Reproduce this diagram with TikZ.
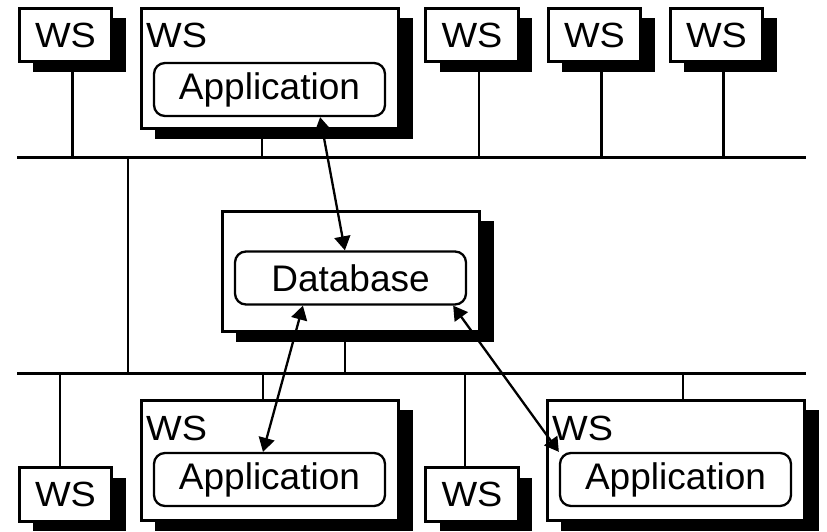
\documentclass[tikz,border=0pt]{standalone}
\usepackage{fontspec}
\setmainfont{Liberation Sans}
\usetikzlibrary{shadows,calc,arrows.meta,backgrounds}
\begin{document}
\begin{tikzpicture}[x=1pt,y=-1pt,
  shbox/.style={draw=black, fill=white, line width=2.6pt, inner sep=0pt,
    general shadow={fill=black, shadow xshift=14pt, shadow yshift=-10pt}},
  wsfont/.style={font=\fontsize{35}{40}\selectfont\addfontfeature{FakeStretch=1.08}},
  smallws/.style={shbox, wsfont, minimum width=92.5pt, minimum height=53.5pt},
  bigbox/.style={shbox, minimum width=257.5pt, minimum height=120.5pt},
  inner/.style={draw=black, fill=white, line width=2.3pt, rounded corners=11pt, inner sep=0pt,
    minimum width=231pt, minimum height=53pt, font=\fontsize{37}{40}\selectfont},
  lbl/.style={wsfont, inner sep=0pt, anchor=base west},
  wire/.style={line width=2.6pt},
  bus/.style={line width=3pt},
  link/.style={line width=2.3pt, {Triangle[length=14pt,width=16pt]}-{Triangle[length=14pt,width=16pt]}}]
\useasboundingbox (0,0) rectangle (827,532);
% buses
\coordinate (tb1) at (17,157);
\coordinate (tb2) at (806,157);
\coordinate (lb1) at (17,373);
\coordinate (lb2) at (806,373);
% top small workstations
\node[smallws] (ws1) at (65.5,35) {WS};
\node[smallws] (ws3) at (472,35) {WS};
\node[smallws] (ws4) at (594.5,35) {WS};
\node[smallws] (ws5) at (716.5,35) {WS};
% top big workstation
\node[bigbox] (wsA) at (270,68.5) {};
\node[lbl] (wsAl) at (146,48) {WS};
\node[inner] (appA) at (269.5,89.5) {Application};
% database
\node[bigbox] (db) at (351,271.5) {};
\node[inner] (dbi) at (350.5,278) {Database};
% bottom small workstations
\node[smallws] (wsL) at (65.5,494.5) {WS};
\node[smallws] (wsR) at (472,494.5) {WS};
% bottom big workstations
\node[bigbox] (wsB) at (270,460.5) {};
\node[lbl] (wsBl) at (146,440) {WS};
\node[inner] (appB) at (269.5,479.5) {Application};
\node[bigbox] (wsC) at (676,460.5) {};
\node[lbl] (wsCl) at (552,440) {WS};
\node[inner] (appC) at (675.5,479.5) {Application};
% wiring behind
\begin{scope}[on background layer]
\draw[bus] (tb1) -- (tb2);
\draw[bus] (lb1) -- (lb2);
\draw[wire] ($(tb1)!0.1407!(tb2)$) -- ($(lb1)!0.1407!(lb2)$);
\foreach \n in {ws1,ws3,ws4,ws5}
  \draw[wire] ($(\n.center)+(7,0)$) -- ($(\n.center |- tb1)+(7,0)$);
\draw[wire] ($(wsA.center)+(-8,0)$) -- ($(wsA.center |- tb1)+(-8,0)$);
\draw[wire] ($(db.center)+(-6,0)$) -- ($(db.center |- lb1)+(-6,0)$);
\draw[wire] ($(wsL.center)+(-5.5,0)$) -- ($(wsL.center |- lb1)+(-5.5,0)$);
\draw[wire] ($(wsB.center)+(-7,0)$) -- ($(wsB.center |- lb1)+(-7,0)$);
\draw[wire] ($(wsR.center)+(-7,0)$) -- ($(wsR.center |- lb1)+(-7,0)$);
\draw[wire] ($(wsC.center)+(7,0)$) -- ($(wsC.center |- lb1)+(7,0)$);
\end{scope}
% links
\draw[link] ($(appA.south west)!0.717!(appA.south east)$) -- ($(dbi.north west)!0.476!(dbi.north east)$);
\draw[link] ($(dbi.south west)!0.296!(dbi.south east)$) -- ($(appB.north west)!0.472!(appB.north east)$);
\draw[link] ($(dbi.south west)!0.94!(dbi.south east)$) -- (appC.north west);
\end{tikzpicture}
\end{document}
